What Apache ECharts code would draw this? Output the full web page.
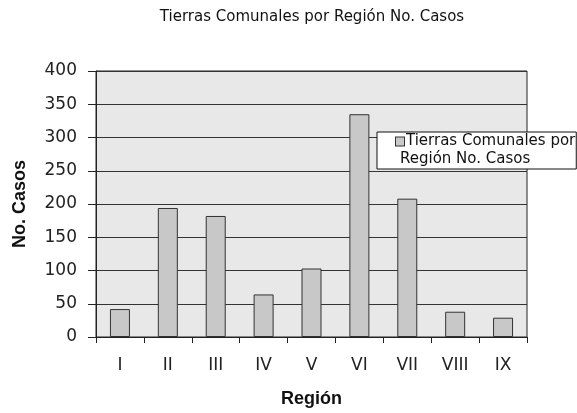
<!DOCTYPE html>
<html>
<head>
<meta charset="utf-8">
<script src="https://cdn.jsdelivr.net/npm/echarts@6/dist/echarts.min.js"></script>
<style>
  html, body { margin: 0; padding: 0; background: #fff; }
  #chart { width: 577px; height: 413px; }
</style>
</head>
<body>
<div id="chart"></div>
<script>
// datos
const regiones = ['I', 'II', 'III', 'IV', 'V', 'VI', 'VII', 'VIII', 'IX'];
const casos = [42, 194, 182, 64, 103, 335, 208, 38, 29];
const serieNombre = 'Tierras Comunales por Región No. Casos';

const font = 'DejaVu Sans, sans-serif';
const fontBold = 'Liberation Sans, Arial, sans-serif';
const chart = echarts.init(document.getElementById('chart'), null, { renderer: 'canvas' });

chart.setOption({
  animation: false,
  title: {
    text: 'Tierras Comunales por Región No. Casos',
    left: 307,
    top: 5,
    textAlign: 'center',
    textStyle: { fontFamily: font, fontSize: 15, fontWeight: 'normal', color: '#111' }
  },
  legend: {
    left: 377,
    top: 132,
    icon: 'none',
    itemWidth: 0,
    itemHeight: 0,
    backgroundColor: '#fff',
    borderColor: '#111',
    borderWidth: 1,
    padding: [2, 1, 2, 14],
    formatter: function () {
      // icono cuadrado en la primera linea
      return '{sq|}{g|}{t|Tierras Comunales por}\n{p|}{t|Región No. Casos}';
    },
    textStyle: {
      fontFamily: font,
      rich: {
        sq: { width: 8, height: 8, backgroundColor: '#c8c8c8', borderColor: '#333', borderWidth: 1 },
        g: { width: 2 },
        p: { width: 4 },
        t: { fontFamily: font, fontSize: 15, lineHeight: 18, color: '#111' }
      }
    },
    data: [serieNombre]
  },
  grid: {
    left: 96,
    right: 50,
    top: 71,
    bottom: 76,
    show: true,
    backgroundColor: '#e8e8e8',
    borderColor: '#222',
    borderWidth: 1
  },
  xAxis: {
    type: 'category',
    data: regiones,
    name: 'Región',
    nameLocation: 'middle',
    nameGap: 53,
    nameTextStyle: { fontFamily: fontBold, fontSize: 18, fontWeight: 'bold', color: '#111' },
    axisLine: { lineStyle: { color: '#222', width: 1 } },
    axisTick: { show: true, length: 6, lineStyle: { color: '#222' } },
    axisLabel: { margin: 20, fontFamily: font, fontSize: 17, color: '#222' }
  },
  yAxis: {
    type: 'value',
    min: 0,
    max: 400,
    interval: 50,
    name: 'No. Casos',
    nameLocation: 'middle',
    nameGap: 67,
    nameTextStyle: { fontFamily: fontBold, fontSize: 18, fontWeight: 'bold', color: '#111' },
    axisLine: { show: true, lineStyle: { color: '#222', width: 1 } },
    axisTick: { show: true, length: 8, lineStyle: { color: '#222' } },
    axisLabel: { margin: 19, fontFamily: font, fontSize: 17, color: '#222' },
    splitLine: { show: true, lineStyle: { color: '#333', width: 1 } }
  },
  series: [
    {
      name: serieNombre,
      type: 'bar',
      data: casos,
      barWidth: 20,
      itemStyle: { color: '#c8c8c8', borderColor: '#333', borderWidth: 1 }
    }
  ]
});
</script>
</body>
</html>
